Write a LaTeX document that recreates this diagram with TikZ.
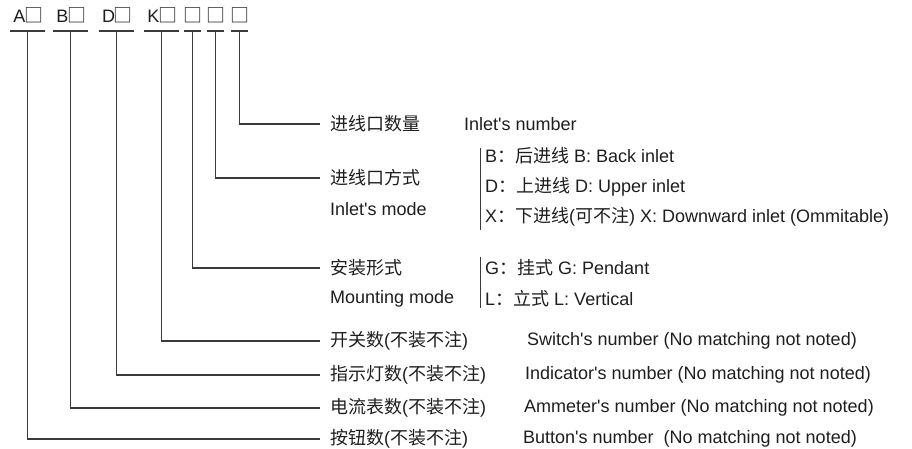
\documentclass[tikz,border=0pt]{standalone}
\usepackage{fontspec}
\setmainfont{Liberation Sans}
\newfontfamily\cjk{Noto Sans CJK SC}
\newcommand{\sq}{{\cjk\fontsize{19}{20}\selectfont\kern-1.5pt □\kern-1.5pt}}
\newcommand{\ap}{\textquotesingle}
\definecolor{ink}{HTML}{1E1E1E}
\definecolor{wire}{HTML}{3A3A3A}
\begin{document}
\begin{tikzpicture}[x=1pt,y=-1pt,
  code/.style={anchor=south,inner xsep=3pt,inner ysep=8pt,text height=12pt,text depth=0pt,
    font=\fontsize{18}{20}\selectfont,text=ink},
  lab/.style={anchor=west,inner xsep=10pt,inner ysep=0pt,font=\fontsize{18}{20}\selectfont,text=ink},
  txt/.style={anchor=west,inner sep=0pt,font=\fontsize{18}{20}\selectfont,text=ink},
  wline/.style={draw=wire,line width=1.1pt},
  bar/.style={draw=wire,line width=0.9pt}]
\useasboundingbox (0,0) rectangle (912,448);

% top code
\node[code] (a)  at (27.5,31) {A\sq};
\node[code] (b)  at (70.5,31) {B\sq};
\node[code] (d)  at (116.5,31) {D\sq};
\node[code] (k)  at (161.5,31) {K\sq};
\node[code,inner xsep=0pt] (s1) at (192.5,31) {\sq};
\node[code,inner xsep=0pt] (s2) at (215.5,31) {\sq};
\node[code,inner xsep=0pt] (s3) at (239.5,31) {\sq};
\foreach \n in {a,b,d,k,s1,s2,s3}
  \draw[wline] (\n.south west) -- (\n.south east);

% labels
\node[lab] (c1) at (320,124) {\cjk 进线口数量};
\node[lab] (c2) at (320,178) {\cjk 进线口方式};
\node[lab] (c3) at (320,268) {\cjk 安装形式};
\node[lab] (c4) at (320,341) {\cjk 开关数\textrm{(}不装不注\textrm{)}};
\node[lab] (c5) at (320,375) {\cjk 指示灯数\textrm{(}不装不注\textrm{)}};
\node[lab] (c6) at (320,408) {\cjk 电流表数\textrm{(}不装不注\textrm{)}};
\node[lab] (c7) at (320,439) {\cjk 按钮数\textrm{(}不装不注\textrm{)}};

% connectors
\draw[wline] (s3.south) |- (c1.west);
\draw[wline] (s2.south) |- (c2.west);
\draw[wline] (s1.south) |- (c3.west);
\draw[wline] (k.south) |- (c4.west);
\draw[wline] (d.south) |- (c5.west);
\draw[wline] (b.south) |- (c6.west);
\draw[wline] (a.south) |- (c7.west);

% english / options
\node[txt] (e1) at (464,124) {Inlet\ap s number};
\node[txt] (e2) at (330,209) {Inlet\ap s mode};
\node[txt] (e3) at (330,299) {Mounting mode};
\node[txt] (o1) at (485,156) {B{\cjk ：后进线} B: Back inlet};
\node[txt] (o2) at (485,187) {D{\cjk ：上进线} D: Upper inlet};
\node[txt] (o3) at (485,217) {X{\cjk ：下进线}({\cjk 可不注}) X: Downward inlet (Ommitable)};
\node[txt] (o4) at (485,268) {G{\cjk ：挂式} G: Pendant};
\node[txt] (o5) at (485,299) {L{\cjk ：立式} L: Vertical};
\node[txt] (e4) at (527,341) {Switch\ap s number (No matching not noted)};
\node[txt] (e5) at (525,375) {Indicator\ap s number (No matching not noted)};
\node[txt] (e6) at (524,408) {Ammeter\ap s number (No matching not noted)};
\node[txt] (e7) at (523,439) {Button\ap s number\ \ (No matching not noted)};

% brackets
\draw[bar] (480,148) -- (480,230);
\draw[bar] (480,257) -- (480,308);
\end{tikzpicture}
\end{document}
